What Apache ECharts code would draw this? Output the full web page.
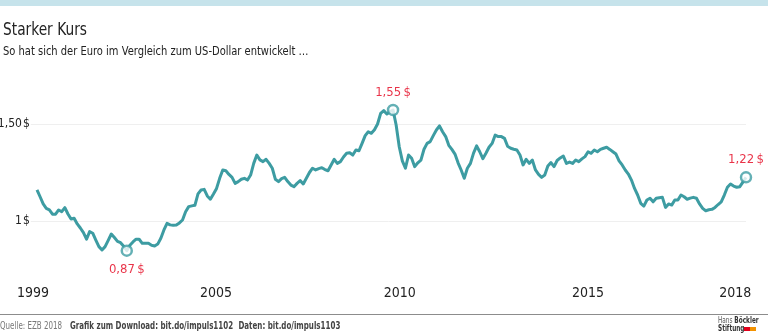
<!DOCTYPE html>
<html>
<head>
<meta charset="utf-8">
<title>Starker Kurs</title>
<script src="https://cdn.jsdelivr.net/npm/echarts@6/dist/echarts.min.js"></script>
<style>
	html, body { margin: 0; padding: 0; background: #fff; }
	#chart { width: 768px; height: 336px; }
</style>
</head>
<body>
<div id="chart"></div>
<script>
// Euro in US-Dollar, Monatswerte ab Januar 1999 (Index 0 = 01/1999)
var kurs = [
	1.160, 1.125, 1.088, 1.065, 1.057, 1.035, 1.035, 1.057, 1.048, 1.069, 1.036, 1.010,
	1.014, 0.985, 0.964, 0.940, 0.906, 0.945, 0.937, 0.902, 0.868, 0.851, 0.868, 0.900,
	0.933, 0.915, 0.895, 0.888, 0.870, 0.847, 0.875, 0.892, 0.906, 0.906, 0.885, 0.885,
	0.885, 0.875, 0.871, 0.881, 0.911, 0.954, 0.988, 0.980, 0.978, 0.979, 0.990, 1.005,
	1.048, 1.074, 1.078, 1.081, 1.140, 1.160, 1.163, 1.129, 1.112, 1.139, 1.168, 1.220,
	1.263, 1.259, 1.240, 1.225, 1.194, 1.203, 1.215, 1.220, 1.211, 1.237, 1.297, 1.340,
	1.315, 1.306, 1.318, 1.297, 1.272, 1.215, 1.203, 1.218, 1.225, 1.203, 1.185, 1.177,
	1.194, 1.208, 1.191, 1.220, 1.250, 1.272, 1.263, 1.270, 1.275, 1.265, 1.259, 1.289,
	1.318, 1.297, 1.306, 1.330, 1.349, 1.352, 1.340, 1.366, 1.362, 1.400, 1.440, 1.460,
	1.452, 1.470, 1.500, 1.555, 1.569, 1.552, 1.563, 1.572, 1.495, 1.383, 1.310, 1.272,
	1.340, 1.323, 1.280, 1.300, 1.314, 1.370, 1.400, 1.409, 1.440, 1.469, 1.490, 1.460,
	1.435, 1.390, 1.369, 1.345, 1.300, 1.263, 1.220, 1.272, 1.297, 1.350, 1.387, 1.357,
	1.321, 1.349, 1.380, 1.400, 1.443, 1.435, 1.435, 1.426, 1.385, 1.375, 1.370, 1.366,
	1.340, 1.289, 1.318, 1.297, 1.314, 1.263, 1.240, 1.225, 1.237, 1.284, 1.301, 1.280,
	1.312, 1.325, 1.335, 1.297, 1.304, 1.297, 1.314, 1.306, 1.320, 1.332, 1.357, 1.349,
	1.366, 1.357, 1.369, 1.375, 1.380, 1.369, 1.357, 1.345, 1.310, 1.289, 1.263, 1.242,
	1.211, 1.168, 1.134, 1.091, 1.077, 1.108, 1.117, 1.099, 1.117, 1.120, 1.122, 1.070,
	1.088, 1.082, 1.108, 1.108, 1.134, 1.125, 1.112, 1.118, 1.122, 1.117, 1.088, 1.065,
	1.053, 1.058, 1.060, 1.070, 1.085, 1.099, 1.134, 1.174, 1.191, 1.180, 1.174, 1.177,
	1.200, 1.225
];

// markierte Punkte (Tief, Hoch, aktuell)
var markIndex = [29, 115, 229];
var markText = ['0,87\u2009$', '1,55\u2009$', '1,22\u2009$'];
var markPos = ['bottom', 'top', 'top'];

// Achsenbeschriftung
var xTickPos = [-1.3, 57.8, 117.2, 178, 225.5];
var xTickText = ['1999', '2005', '2010', '2015', '2018'];
var yTickPos = [1, 1.5];
var yTickText = ['1\u200a$', '1,50\u200a$'];

var teal = '#3d9ca2';
var red = '#e3001b';
var font = '"DejaVu Sans Condensed", "Liberation Sans Narrow", sans-serif';

var lineData = [];
for(var i = 0; i < kurs.length; i++) {
	lineData.push([i, kurs[i]]);
}

var markData = [];
for(var j = 0; j < markIndex.length; j++) {
	markData.push({
		value: [markIndex[j], kurs[markIndex[j]]],
		label: {
			position: markPos[j],
			distance: markPos[j] == 'bottom' ? 6 : 5
		}
	});
}

var chart = echarts.init(document.getElementById('chart'), null, { renderer: 'canvas' });

var option = {
	backgroundColor: '#fff',
	animation: false,
	grid: {
		left: 30.8,
		right: 22,
		top: 104.6,
		bottom: 76.2,
		containLabel: false,
		outerBoundsMode: 'none'
	},
	xAxis: {
		type: 'value',
		min: -2,
		max: kurs.length - 1,
		axisLine: { show: false },
		axisTick: { show: false },
		splitLine: { show: false },
		axisLabel: {
			customValues: xTickPos,
			margin: 27,
			fontFamily: font,
			fontSize: 14,
			color: '#222',
			formatter: function(v) {
				var k = xTickPos.indexOf(v);
				return k >= 0 ? xTickText[k] : '';
			}
		}
	},
	yAxis: {
		type: 'value',
		min: 0.8,
		max: 1.6,
		axisLine: { show: false },
		axisTick: { show: false, customValues: yTickPos },
		splitLine: {
			show: true,
			lineStyle: { color: '#efefef', width: 1 }
		},
		axisLabel: {
			customValues: yTickPos,
			margin: 1,
			fontFamily: font,
			fontSize: 12,
			color: '#222',
			formatter: function(v) {
				var k = yTickPos.indexOf(v);
				return k >= 0 ? yTickText[k] : '';
			}
		}
	},
	series: [{
		type: 'line',
		data: lineData,
		showSymbol: false,
		smooth: false,
		lineStyle: { color: teal, width: 3, join: 'round' },
		itemStyle: { color: teal },
		z: 2
	}, {
		type: 'scatter',
		data: markData,
		symbol: 'circle',
		symbolSize: 10,
		clip: false,
		itemStyle: {
			color: '#fff',
			borderColor: teal,
			borderWidth: 2.5
		},
		label: {
			show: true,
			fontFamily: font,
			fontSize: 13,
			color: red,
			formatter: function(p) {
				return markText[p.dataIndex];
			}
		},
		z: 3
	}],
	graphic: [{
		// heller Balken oben
		type: 'rect',
		shape: { x: 0, y: 0, width: 768, height: 6 },
		style: { fill: '#c6e3eb' }
	}, {
		// Titel
		type: 'text',
		x: 3,
		y: 21,
		scaleX: 0.85,
		style: {
			text: 'Starker Kurs',
			fontFamily: font,
			fontSize: 18,
			fill: '#222',
			verticalAlign: 'top'
		}
	}, {
		type: 'text',
		x: 3,
		y: 46,
		scaleX: 0.92,
		style: {
			text: 'So hat sich der Euro im Vergleich zum US-Dollar entwickelt …',
			fontFamily: font,
			fontSize: 12,
			fill: '#222',
			verticalAlign: 'top'
		}
	}, {
		// Trennlinie Fuss
		type: 'line',
		shape: { x1: 0, y1: 314.5, x2: 768, y2: 314.5 },
		style: { stroke: '#8c8c8c', lineWidth: 1 }
	}, {
		type: 'text',
		x: 0,
		y: 320,
		scaleX: 0.79,
		style: {
			text: '{a|Quelle: EZB 2018}   {b|Grafik zum Download: bit.do/impuls1102}  {b|Daten: bit.do/impuls1103}',
			verticalAlign: 'top',
			rich: {
				a: { fontFamily: font, fontSize: 10, fill: '#777' },
				b: { fontFamily: font, fontSize: 10, fontWeight: 'bold', fill: '#444' }
			}
		}
	}, {
		type: 'text',
		x: 718,
		y: 317,
		scaleX: 0.8,
		style: {
			text: '{a|Hans }{b|Böckler}\n{b|Stiftung}',
			verticalAlign: 'top',
			rich: {
				a: { fontFamily: font, fontSize: 8, fill: '#555', lineHeight: 8 },
				b: { fontFamily: font, fontSize: 8, fontWeight: 'bold', fill: '#333', lineHeight: 8 }
			}
		}
	}, {
		type: 'rect',
		shape: { x: 744, y: 327, width: 6, height: 4 },
		style: { fill: red }
	}, {
		type: 'rect',
		shape: { x: 750, y: 327, width: 6, height: 4 },
		style: { fill: '#f39200' }
	}]
};

chart.setOption(option);
</script>
</body>
</html>
